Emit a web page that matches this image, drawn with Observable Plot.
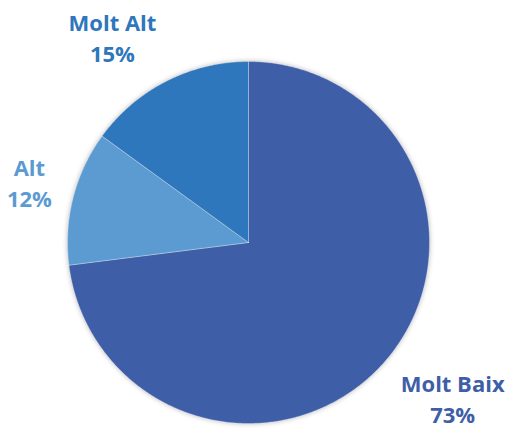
<!DOCTYPE html>
<html><head><meta charset="utf-8">
<script src="https://cdn.jsdelivr.net/npm/d3@7"></script>
<script src="https://cdn.jsdelivr.net/npm/@observablehq/plot@0.6"></script>
<style>
html,body{margin:0;padding:0;background:#fff;}
#chart svg g[aria-label="line"]{filter:drop-shadow(0px 0px 2.5px rgba(0,0,0,0.28));}
</style></head><body><div id="chart"></div>
<script>
// Data
const categories = ["Molt Baix", "Alt", "Molt Alt"];
const values = [73, 12, 15];
// Styles
const colors = ["#3F5EA8", "#5C9BD1", "#2E77BC"];

// Layout (pixels)
const W = 507, H = 428, R = 181, CX = 248, CY = 242;
const FONT_SIZE = 22, LINE_H = 1.41, FONT = `bold ${FONT_SIZE}px "Open Sans"`;
const CAP = 0.72 * FONT_SIZE, GAP = 22;

const arcs = d3.pie().sort(null).value(d => d)(values);

// slice outlines in unit-radius coordinates (y up)
const slicePts = [];
arcs.forEach((a, i) => {
  const cat = categories[i];
  slicePts.push({x: 0, y: 0, cat});
  const n = Math.max(2, Math.ceil((a.endAngle - a.startAngle) / (Math.PI / 360)));
  for (let k = 0; k <= n; k++) {
    const t = a.startAngle + (a.endAngle - a.startAngle) * k / n;
    slicePts.push({x: Math.sin(t), y: Math.cos(t), cat});
  }
  slicePts.push({x: 0, y: 0, cat});
});

// label layout (outside end, best fit)
const ctx = document.createElement("canvas").getContext("2d");
ctx.font = FONT;
const clamp = v => Math.max(0, Math.min(1, v));
const labels = arcs.map((a, i) => {
  const text = `${categories[i]}\n${values[i]}%`;
  const w = d3.max(text.split("\n"), s => ctx.measureText(s).width);
  const h = CAP + FONT_SIZE * LINE_H;
  const mid = (a.startAngle + a.endAngle) / 2;
  const s = Math.sin(mid), v = -Math.cos(mid);
  const px = CX + (R + GAP) * s, py = CY + (R + GAP) * v;
  const fx = clamp((1 - s * 2.5) / 2), fy = clamp((1 - v * 1.5) / 2);
  const left = px - fx * w, top = py - fy * h;
  const cxp = left + w / 2, base2 = top + h;
  return {x: (cxp - CX) / R, y: (CY - base2) / R, text, cat: categories[i]};
});

const chart = Plot.plot({
  width: W, height: H, margin: 0,
  x: {domain: [-CX / R, (W - CX) / R], range: [0, W], axis: null},
  y: {domain: [-(H - CY) / R, CY / R], range: [H, 0], axis: null},
  color: {domain: categories, range: colors},
  style: {background: "white", overflow: "visible"},
  marks: [
    Plot.line(slicePts, {x: "x", y: "y", z: "cat", fill: "cat", stroke: "#ffffff", strokeOpacity: 0.3, strokeWidth: 1, curve: "linear"}),
    Plot.text(labels, {x: "x", y: "y", text: "text", fill: "cat", fontSize: FONT_SIZE, fontWeight: "bold",
      fontFamily: "Open Sans", textAnchor: "middle", lineAnchor: "bottom", lineHeight: LINE_H})
  ]
});
document.getElementById("chart").appendChild(chart);
</script></body></html>
